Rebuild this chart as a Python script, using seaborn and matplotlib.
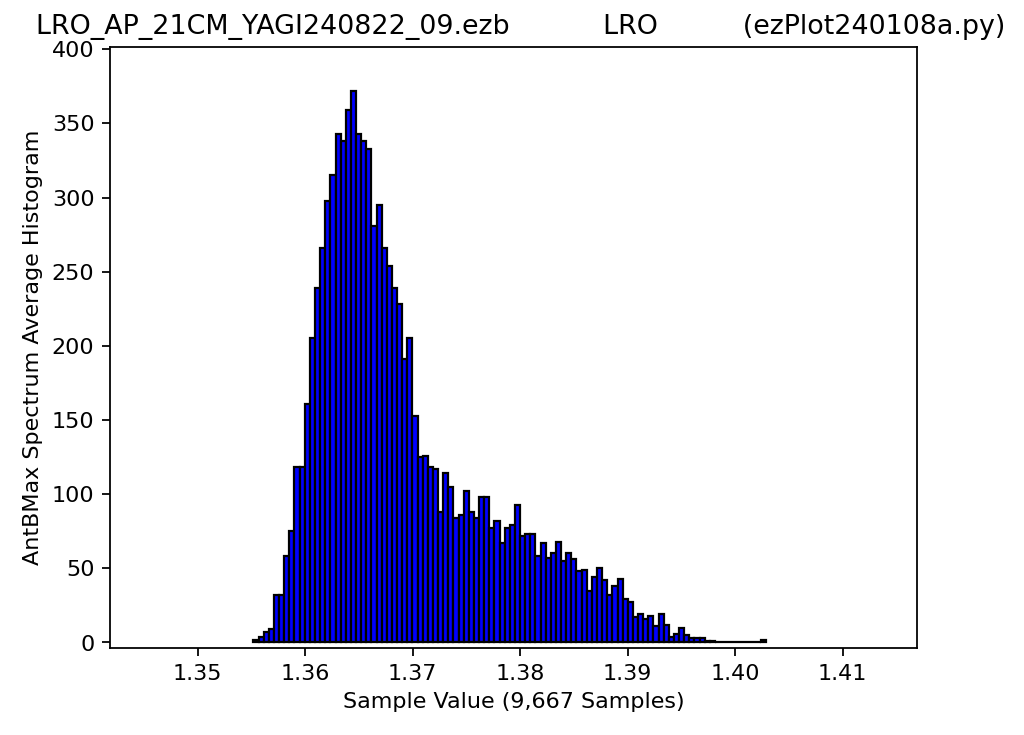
import matplotlib
matplotlib.use("Agg")
import matplotlib.pyplot as plt
import numpy as np
import pandas as pd
import seaborn as sns

# ── Data (100 bins) ───────────────────────────────────────────────────────────
BIN_LO = 1.3552
BIN_HI = 1.4029
counts = [
    2, 4, 7, 9, 32, 32, 58, 75, 118, 118,
    161, 205, 239, 266, 298, 315, 343, 338, 359, 372,
    343, 338, 333, 281, 295, 266, 254, 239, 228, 191,
    205, 153, 125, 126, 118, 117, 88, 114, 105, 84,
    86, 102, 88, 84, 98, 98, 77, 82, 67, 77,
    79, 93, 72, 73, 73, 58, 67, 57, 60, 68,
    55, 60, 56, 48, 49, 35, 44, 50, 42, 32,
    38, 43, 29, 27, 17, 19, 16, 18, 11, 19,
    12, 4, 6, 10, 5, 3, 3, 3, 1, 1,
    0, 0, 0, 0, 0, 0, 0, 0, 0, 2,
]
file_name = "LRO_AP_21CM_YAGI240822_09.ezb"
station = "LRO"
program = "(ezPlot240108a.py)"
x_label = "Sample Value (9,667 Samples)"
y_label = "AntBMax Spectrum Average Histogram"

edges = np.linspace(BIN_LO, BIN_HI, len(counts) + 1)
df = pd.DataFrame({
    "value": (edges[:-1] + edges[1:]) / 2,
    "count": counts,
})

fig = plt.figure(figsize=(6.4, 4.594), dpi=160)
ax = fig.add_axes([0.1074, 0.1184, 0.7881, 0.8176])

sns.histplot(
    data=df, x="value", weights="count",
    bins=len(counts), binrange=(BIN_LO, BIN_HI), stat="count",
    color="blue", edgecolor="black", linewidth=1.0, alpha=1.0, ax=ax,
)

ax.set_xlim(1.34185, 1.41693)
ax.set_ylim(-3.7, 401.5)
ax.set_xticks([1.35, 1.36, 1.37, 1.38, 1.39, 1.40, 1.41])
ax.set_xticklabels(["1.35", "1.36", "1.37", "1.38", "1.39", "1.40", "1.41"])
ax.set_yticks(range(0, 401, 50))
ax.set_xlabel(x_label)
ax.set_ylabel(y_label)
ax.set_title(f"{file_name}" + " " * 11 + station + " " * 10 + program,
             x=0.509, fontsize=12.1)

fig.savefig("out.png", dpi=160)
